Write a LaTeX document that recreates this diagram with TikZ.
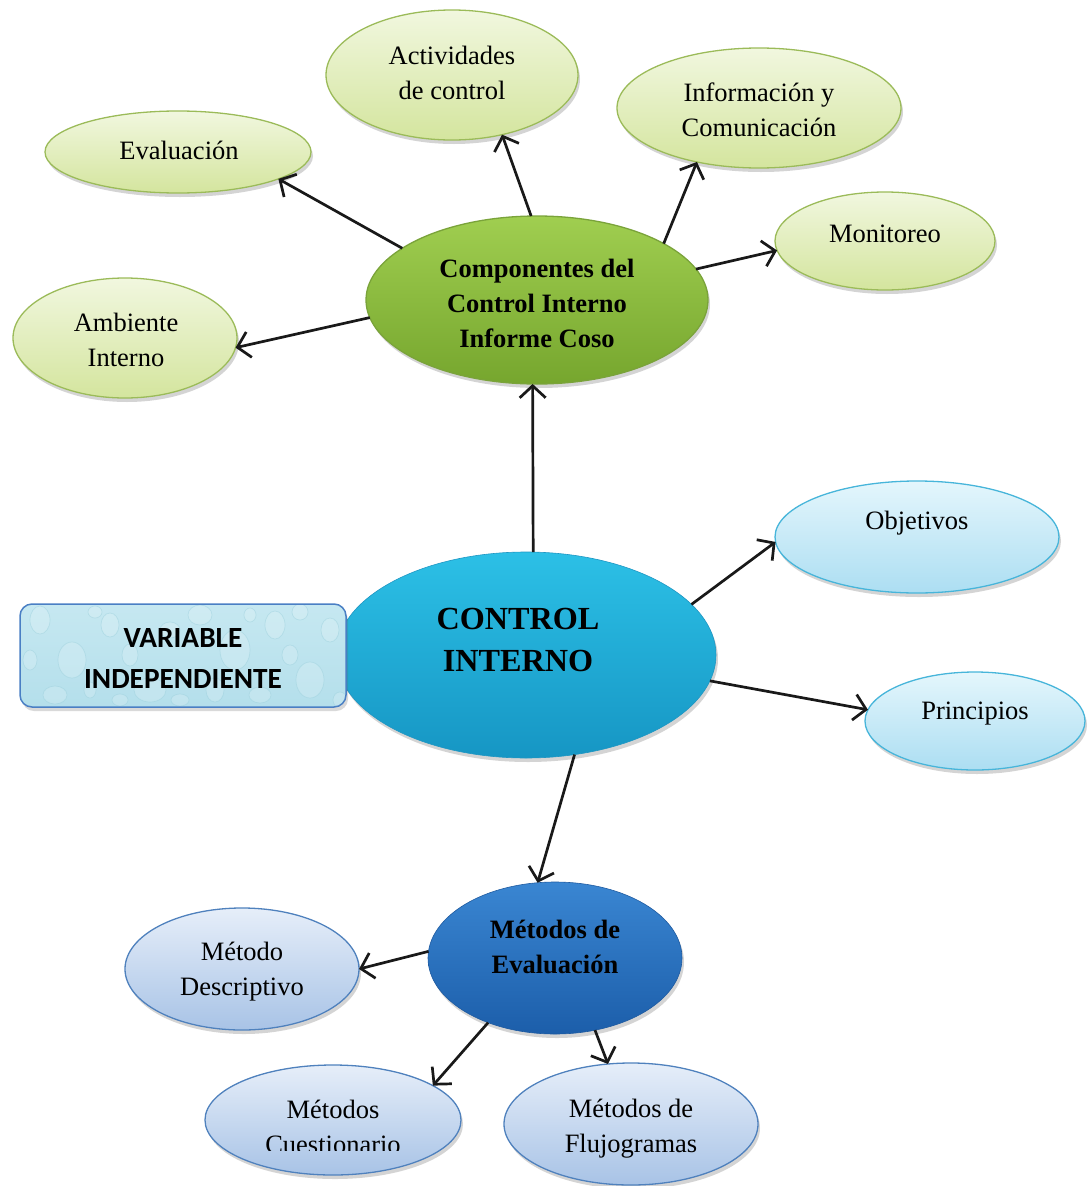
\documentclass[tikz,border=0pt]{standalone}
\usepackage{fontspec}
\setmainfont{Liberation Serif}
\newfontfamily\varfont{Carlito}
\usetikzlibrary{shapes.geometric,arrows.meta,shadows}

\definecolor{greenedge}{HTML}{9BBB59}
\definecolor{greentop}{HTML}{F1F7DF}
\definecolor{greenbot}{HTML}{D4E59E}
\definecolor{compedge}{HTML}{7AA33A}
\definecolor{comptop}{HTML}{A0CE50}
\definecolor{compbot}{HTML}{76A62E}
\definecolor{ctrledge}{HTML}{1E96C3}
\definecolor{ctrltop}{HTML}{2CC0E6}
\definecolor{ctrlbot}{HTML}{1696C4}
\definecolor{skyedge}{HTML}{47B5DA}
\definecolor{skytop}{HTML}{E4F6FC}
\definecolor{skybot}{HTML}{ACDEF2}
\definecolor{metedge}{HTML}{1E5AA0}
\definecolor{mettop}{HTML}{3A86D2}
\definecolor{metbot}{HTML}{1C5EAA}
\definecolor{paleedge}{HTML}{4F81BD}
\definecolor{paletop}{HTML}{E6EEF9}
\definecolor{palebot}{HTML}{A8C3E6}
\definecolor{boxedge}{HTML}{4A7FC4}
\definecolor{boxtop}{HTML}{C6E8F1}
\definecolor{boxbot}{HTML}{B4DFEB}
\definecolor{dropedge}{HTML}{9ACFDC}
\definecolor{arrowink}{HTML}{191919}

\tikzset{
  bubble/.style={ellipse, inner sep=0pt, outer sep=0pt, line width=1.3pt,
    drop shadow={shadow xshift=2pt, shadow yshift=-4pt, opacity=0.28, fill=black!60}},
  greenell/.style={bubble, draw=greenedge, top color=greentop, bottom color=greenbot},
  compell/.style={bubble, draw=compedge, top color=comptop, bottom color=compbot},
  ctrlell/.style={bubble, draw=ctrledge, line width=0.6pt, top color=ctrltop, bottom color=ctrlbot},
  skyell/.style={bubble, draw=skyedge, top color=skytop, bottom color=skybot},
  metell/.style={bubble, draw=metedge, line width=0.6pt, top color=mettop, bottom color=metbot},
  paleell/.style={bubble, draw=paleedge, top color=paletop, bottom color=palebot},
  lbl/.style={align=center, inner sep=0pt, font=\fontsize{26.5}{35}\selectfont},
  boldlbl/.style={lbl, font=\fontsize{26.5}{35}\selectfont\bfseries},
  arr/.style={line width=2.7pt, draw=arrowink, -{Straight Barb[length=12pt,width=26pt]}},
}

\begin{document}
\begin{tikzpicture}[x=1pt,y=-1pt]
\useasboundingbox (0,0) rectangle (1090,1186);

% ---- component bubbles (top) ----
\node[greenell, minimum width=266pt, minimum height=82pt] (eval) at (178,152) {};
\node[greenell, minimum width=252pt, minimum height=130pt] (act) at (452,75) {};
\node[greenell, minimum width=284pt, minimum height=120pt] (info) at (759,108) {};
\node[greenell, minimum width=220pt, minimum height=98pt] (mon) at (885,241) {};
\node[greenell, minimum width=224pt, minimum height=120pt] (amb) at (125,338) {};
\node[compell, minimum width=342pt, minimum height=168pt] (comp) at (537,300) {};

\node[lbl] (evalt) at (179,150) {Evaluación};
\node[lbl] (actt) at (452,73) {Actividades\\de control};
\node[lbl] (infot) at (759,110) {Información y\\Comunicación};
\node[lbl] (mont) at (885,234) {Monitoreo};
\node[lbl] (ambt) at (126,340) {Ambiente\\Interno};
\node[boldlbl] (compt) at (537,303) {Componentes del\\Control Interno\\Informe Coso};

% ---- central concept ----
\node[ctrlell, minimum width=380pt, minimum height=206pt] (ctrl) at (526,655) {};
\node[align=center, inner sep=0pt, font=\fontsize{32.2}{42}\selectfont\bfseries] (ctrlt) at (518,640) {CONTROL\\INTERNO};

% ---- variable label box with water-drop texture ----
\fill[black!60, opacity=0.25, rounded corners=12pt] (22,608) rectangle (348,711);
\begin{scope}
  \clip[rounded corners=12pt] (20,604) rectangle (346,707);
  \shade[top color=boxtop, bottom color=boxbot] (20,604) rectangle (346,707);
  \foreach \dx/\dy/\rx/\ry in {40/620/10/14, 72/660/14/18, 110/625/9/12, 150/690/16/12, 200/615/12/10,
      235/650/15/20, 275/625/10/14, 310/680/14/18, 330/630/9/12, 55/695/12/9, 130/655/8/11,
      260/695/11/8, 300/612/8/8, 95/612/7/6, 180/700/9/6, 30/660/7/10, 170/630/10/8,
      215/690/9/12, 290/655/8/10, 340/700/7/8, 120/700/8/6, 90/690/6/8, 250/615/6/7}{
    \fill[white, opacity=0.18] (\dx,\dy) ellipse [x radius=\rx, y radius=\ry];
    \draw[dropedge, opacity=0.45, line width=0.7pt] (\dx,\dy) ellipse [x radius=\rx, y radius=\ry];
  }
\end{scope}
\node[draw=boxedge, line width=1.5pt, rounded corners=12pt, minimum width=326pt, minimum height=103pt,
  inner sep=0pt] (var) at (183,655.5) {};
\node[align=center, inner sep=0pt, font=\varfont\fontsize{29.3}{41}\selectfont\bfseries] (vart) at (183,658) {VARIABLE\\INDEPENDIENTE};

% ---- right bubbles ----
\node[skyell, minimum width=284pt, minimum height=112pt] (obj) at (917,537) {};
\node[skyell, minimum width=220pt, minimum height=98pt] (prin) at (975,721) {};
\node[lbl] (objt) at (917,523) {Objetivos};
\node[lbl] (print) at (975,714) {Principios};

% ---- evaluation methods ----
\node[metell, minimum width=254pt, minimum height=152pt] (met) at (555,958) {};
\node[boldlbl] (mett) at (555,947) {Métodos de\\Evaluación};
\node[paleell, minimum width=234pt, minimum height=122pt] (desc) at (242,969) {};
\node[paleell, minimum width=256pt, minimum height=110pt] (cuest) at (333,1120) {};
\node[paleell, minimum width=254pt, minimum height=122pt] (fluj) at (631,1124) {};
\node[lbl] (desct) at (242,972) {Método\\Descriptivo};
\begin{scope}
  \clip (200,1080) rectangle (470,1150);
  \node[lbl] (cuestt) at (333,1127) {Métodos\\Cuestionario};
\end{scope}
\node[lbl] (flujt) at (631,1129) {Métodos de\\Flujogramas};

% ---- connectors ----
\draw[arr] (comp.159.7) -- (eval.-15.7);
\draw[arr] (comp.94.9) -- (act.-50.8);
\draw[arr] (comp.24.7) -- (info.-139.7);
\draw[arr] (comp.11.3) -- (mon.185);
\draw[arr] (comp.186.8) -- (amb.-5.6);
\draw[arr] (ctrl.86.7) -- (comp.-93.9);
\draw[arr] (ctrl.17.1) -- (obj.182);
\draw[arr] (ctrl.-8.1) -- (prin.174);
\draw[arr] (ctrl.-64.6) -- (met.103.5);
\draw[arr] (met.177.7) -- (desc.-0.5);
\draw[arr] (met.-136.4) -- (cuest.19.3);
\draw[arr] (met.-61.6) -- (fluj.111.3);
\end{tikzpicture}
\end{document}
